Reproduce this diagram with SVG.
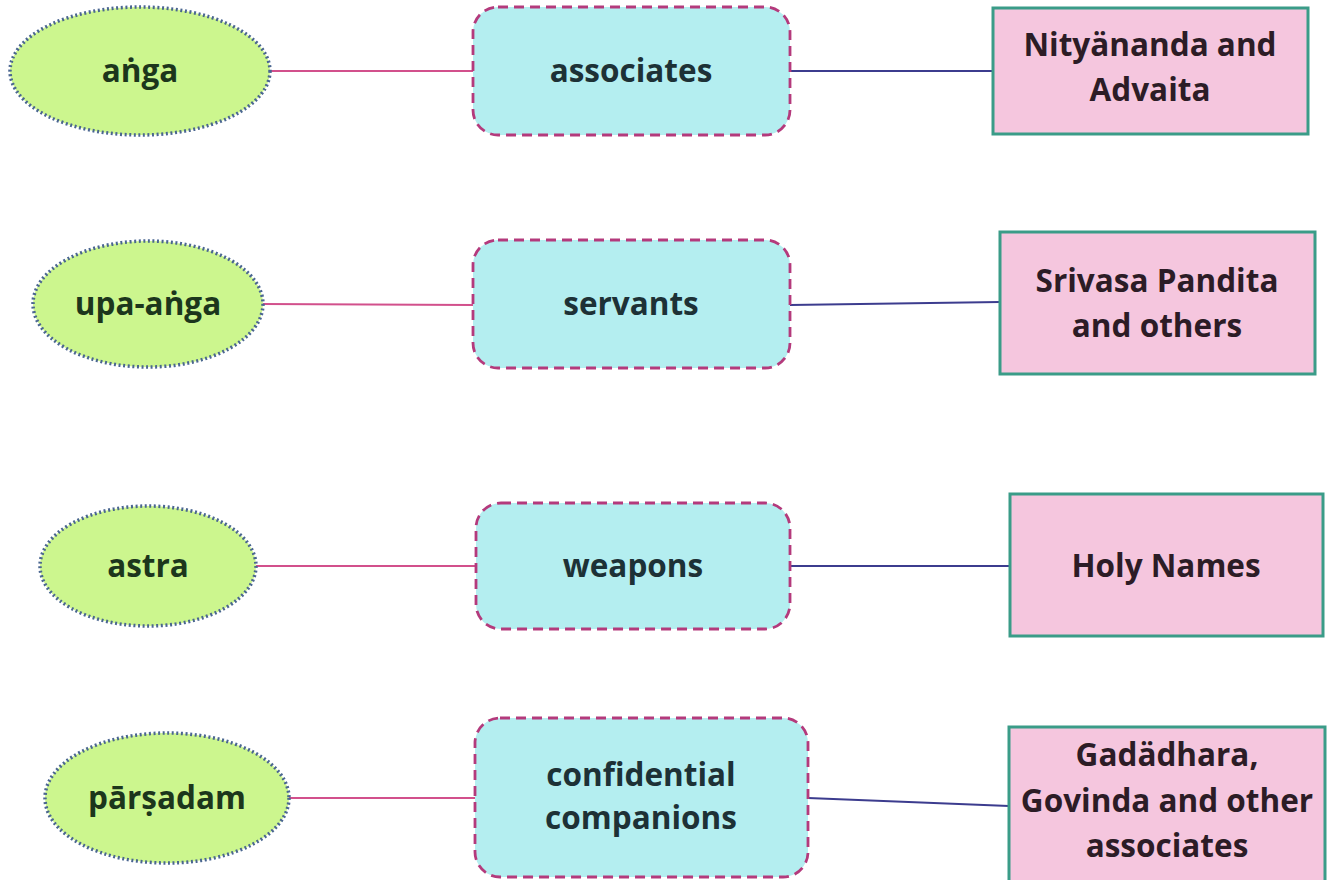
<svg xmlns="http://www.w3.org/2000/svg" width="1327" height="880" viewBox="0 0 1327 880">
<style>
.ell{fill:#ccf68e;stroke:#4a6690;stroke-width:3.5;stroke-dasharray:2 2.6;}
.box{fill:#b4eef0;stroke:#b43a7c;stroke-width:2.8;stroke-dasharray:10 6;}
.rbox{fill:#f5c6de;stroke:#3a9c88;stroke-width:3;}
.cl{stroke:#d2508c;stroke-width:2;fill:none;}
.cr{stroke:#3c3c8e;stroke-width:2;fill:none;}
text{font-family:"Open Sans","Noto Sans","DejaVu Sans",sans-serif;font-weight:700;font-size:31.5px;text-anchor:middle;}
.tl{fill:#1c361c;}
.tb{fill:#1d3136;}
.tr{fill:#2c1c26;}
</style>
<rect width="1327" height="880" fill="#ffffff"/>
<g id="connectors">
<line class="cl" x1="270" y1="71" x2="473" y2="71"/>
<line class="cr" x1="790" y1="71" x2="993" y2="71"/>
<line class="cl" x1="263" y1="304" x2="473" y2="305"/>
<line class="cr" x1="790" y1="305" x2="1000" y2="302"/>
<line class="cl" x1="256" y1="566" x2="476" y2="566"/>
<line class="cr" x1="790" y1="566" x2="1010" y2="566"/>
<line class="cl" x1="289" y1="798" x2="475" y2="798"/>
<line class="cr" x1="808" y1="798" x2="1009" y2="806"/>
</g>
<g id="anga">
<ellipse class="ell" cx="140" cy="71" rx="130" ry="64"/>
<text class="tl" x="140" y="82">aṅga</text>
</g>
<g id="associates">
<rect class="box" x="473" y="7" width="317" height="128" rx="25"/>
<text class="tb" x="631" y="82">associates</text>
</g>
<g id="nityananda">
<rect class="rbox" x="993" y="8" width="315" height="126"/>
<text class="tr" x="1150" y="56">Nityänanda and</text>
<text class="tr" x="1150" y="101">Advaita</text>
</g>
<g id="upa-anga">
<ellipse class="ell" cx="148" cy="304" rx="115" ry="63"/>
<text class="tl" x="148" y="315">upa-aṅga</text>
</g>
<g id="servants">
<rect class="box" x="473" y="240" width="317" height="128" rx="25"/>
<text class="tb" x="631" y="315">servants</text>
</g>
<g id="srivasa">
<rect class="rbox" x="1000" y="232" width="315" height="142"/>
<text class="tr" x="1157" y="292">Srivasa Pandita</text>
<text class="tr" x="1157" y="337">and others</text>
</g>
<g id="astra">
<ellipse class="ell" cx="148" cy="566" rx="108" ry="60"/>
<text class="tl" x="148" y="577">astra</text>
</g>
<g id="weapons">
<rect class="box" x="476" y="503" width="314" height="126" rx="25"/>
<text class="tb" x="633" y="577">weapons</text>
</g>
<g id="holy-names">
<rect class="rbox" x="1010" y="494" width="313" height="142"/>
<text class="tr" x="1166" y="577">Holy Names</text>
</g>
<g id="parsadam">
<ellipse class="ell" cx="167" cy="798" rx="122" ry="65"/>
<text class="tl" x="167" y="809">pārṣadam</text>
</g>
<g id="confidential">
<rect class="box" x="475" y="718" width="333" height="159" rx="25"/>
<text class="tb" x="641" y="786">confidential</text>
<text class="tb" x="641" y="829">companions</text>
</g>
<g id="gadadhara">
<rect class="rbox" x="1009" y="727" width="316" height="165"/>
<text class="tr" x="1167" y="766">Gadädhara,</text>
<text class="tr" x="1167" y="812">Govinda and other</text>
<text class="tr" x="1167" y="857">associates</text>
</g>
</svg>
